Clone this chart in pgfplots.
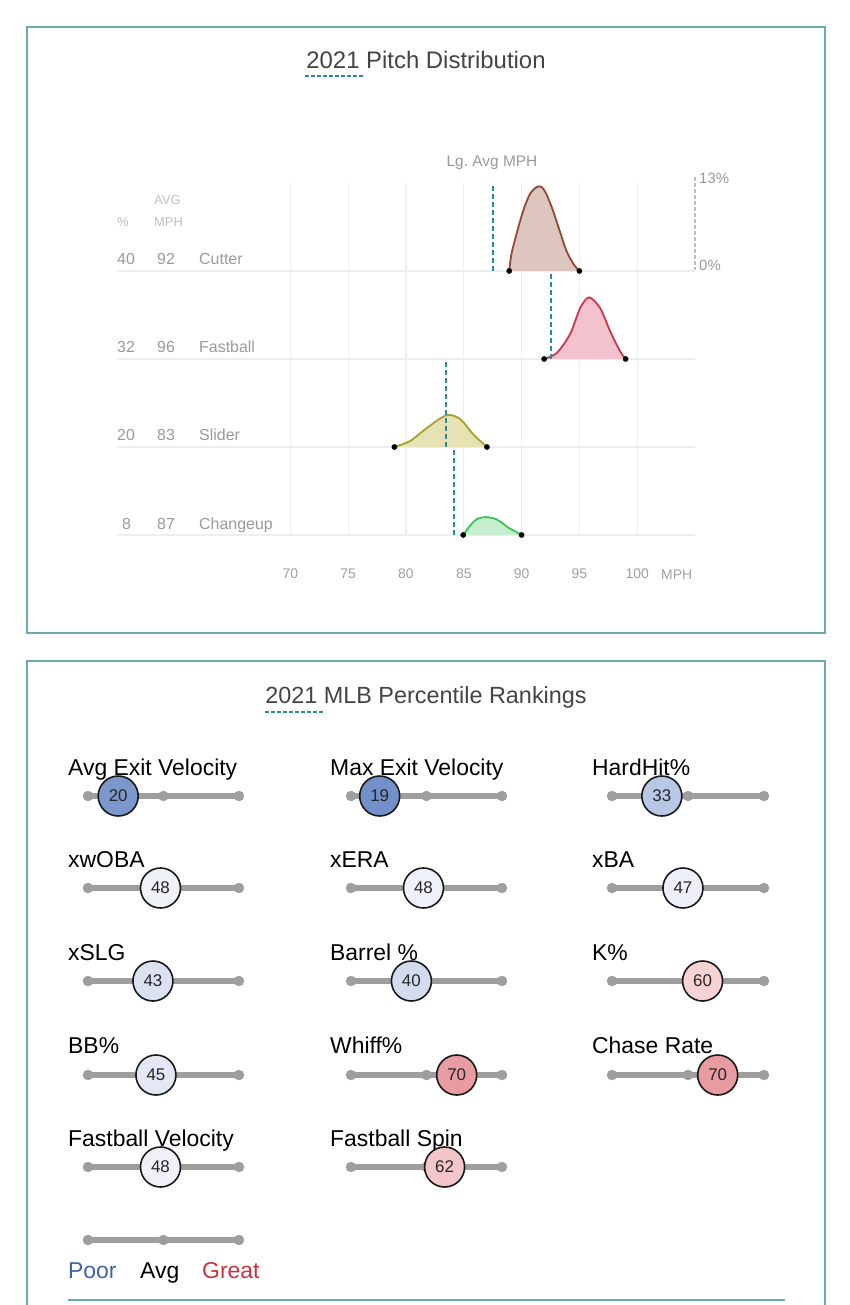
\documentclass[border=0pt]{standalone}
\usepackage{pgfplots}
\pgfplotsset{compat=1.18}
\usepackage{pgfplotstable}
\usepackage{fontspec}
\setmainfont{Liberation Sans}

\definecolor{panel}{HTML}{6AAAB0}
\definecolor{lgavg}{HTML}{2A8C96}
\definecolor{titlec}{HTML}{444444}
\definecolor{lblc}{HTML}{9A9A9A}
\definecolor{lightlbl}{HTML}{C0C0C0}
\definecolor{tickc}{HTML}{A0A0A0}
\definecolor{gridc}{HTML}{EEEEEE}
\definecolor{trk}{HTML}{9E9E9E}
\definecolor{cutL}{HTML}{8E4A36}\definecolor{cutF}{HTML}{DDC6BD}
\definecolor{fbL}{HTML}{C8384F}\definecolor{fbF}{HTML}{F2C3CC}
\definecolor{slL}{HTML}{A8A030}\definecolor{slF}{HTML}{E6E2B4}
\definecolor{chL}{HTML}{3CC25A}\definecolor{chF}{HTML}{C6EDCE}
\definecolor{poor}{HTML}{3F63A3}
\definecolor{great}{HTML}{C9323F}
\definecolor{pA}{HTML}{7290C9}% 19
\definecolor{pB}{HTML}{7B97CB}% 20
\definecolor{pC}{HTML}{B8C7E5}% 33
\definecolor{pD}{HTML}{D3DBEF}% 40
\definecolor{pE}{HTML}{DBE1F1}% 43
\definecolor{pF}{HTML}{E3E8F4}% 45
\definecolor{pG}{HTML}{ECEFF8}% 47
\definecolor{pH}{HTML}{EEF1F8}% 48
\definecolor{pI}{HTML}{F6D2D5}% 60
\definecolor{pJ}{HTML}{F3C6CA}% 62
\definecolor{pK}{HTML}{E89BA0}% 70

\pgfplotstableread{
mph d
88.93 0
89.12 2.5
89.55 5.4
90.12 8.8
90.7 11.3
91.3 12.4
91.73 12.4
92.16 11.3
92.74 8.8
93.3 5.9
93.9 2.9
94.5 1.0
95.0 0
}\cutter
\pgfplotstableread{
mph d
91.95 0
93.05 0.9
94.2 3.7
95.06 7.5
95.84 9.1
96.8 7.5
97.66 4.1
98.5 1.2
99.0 0
}\fastball
\pgfplotstableread{
mph d
79.0 0
80.37 0.9
81.8 2.8
83.5 4.7
84.7 4.1
85.8 1.9
87.0 0
}\slider
\pgfplotstableread{
mph d
84.95 0
85.55 1.4
86.1 2.3
86.85 2.65
87.85 2.3
88.84 1.1
89.6 0.4
90.0 0
}\changeup

\newcommand{\fs}[1]{\fontsize{#1}{#1}\selectfont}
% track: x0, xmid, x1, y
\newcommand{\track}[4]{%
  \addplot[draw=trk, line width=6bp] coordinates {(#1,#4) (#3,#4)};
  \addplot[only marks, mark=*, mark size=5bp, mark options={draw=trk, fill=trk}] coordinates {(#1,#4) (#2,#4) (#3,#4)};
}
% circle: x0, y, percentile, colour
\newcommand{\pct}[4]{%
  \addplot[only marks, mark=*, mark size=20bp, mark options={draw=black!90, line width=1.6bp, fill=#4}, x filter/.expression={#1+1.51*x}] coordinates {(#3,#2)};
  \addplot[only marks, mark=text, text mark={#3}, text mark as node=true,
    text mark style={font=\fs{17}, text=black!85, anchor=center, inner sep=0pt},
    x filter/.expression={#1+1.51*x}] coordinates {(#3,#2)};
}

\begin{document}
\begin{tikzpicture}
\path[use as bounding box] (0,0) rectangle (850bp,1305bp);
\fill[white] (0,0) rectangle (850bp,1305bp);

% ---------------- overlay axis in pixel coordinates ----------------
\begin{axis}[at={(0,0)}, anchor=south west, scale only axis,
  width=850bp, height=1305bp, xmin=0, xmax=850, ymin=0, ymax=1305,
  y dir=reverse, hide axis, clip=false]
  % panels
  \draw[panel, line width=1.5bp] (27,27) rectangle (825,633);
  \draw[panel, line width=1.5bp] (27,1310) -- (27,661) -- (825,661) -- (825,1310);
  \draw[panel, line width=1.5bp] (68,1300) -- (785,1300);

  % top panel texts
  \node[anchor=base, font=\fs{24}, text=titlec] at (426,68) {2021 Pitch Distribution};
  \draw[lgavg, line width=1.2bp, dash pattern=on 4bp off 2bp] (305,76) -- (363,76);
  \node[anchor=base, font=\fs{15.5}, text=lblc] at (492,166) {Lg.\ Avg MPH};
  \node[anchor=base west, font=\fs{15}, text=lblc, inner sep=0pt] at (699,183) {13\%};
  \node[anchor=base west, font=\fs{15}, text=lblc, inner sep=0pt] at (699,270) {0\%};
  \draw[lightlbl, line width=1.2bp, dash pattern=on 4bp off 2bp] (695,177) -- (695,270);

  \node[anchor=base west, font=\fs{13}, text=lightlbl, inner sep=0pt] at (117,226) {\%};
  \node[anchor=base west, font=\fs{13}, text=lightlbl, inner sep=0pt] at (154,204) {AVG};
  \node[anchor=base west, font=\fs{13}, text=lightlbl, inner sep=0pt] at (154,226) {MPH};

  \node[anchor=base west, font=\fs{16}, text=lblc, inner sep=0pt] at (117,264) {40};
  \node[anchor=base west, font=\fs{16}, text=lblc, inner sep=0pt] at (157,264) {92};
  \node[anchor=base west, font=\fs{16}, text=lblc, inner sep=0pt] at (199,264) {Cutter};
  \node[anchor=base west, font=\fs{16}, text=lblc, inner sep=0pt] at (117,352.3) {32};
  \node[anchor=base west, font=\fs{16}, text=lblc, inner sep=0pt] at (157,352.3) {96};
  \node[anchor=base west, font=\fs{16}, text=lblc, inner sep=0pt] at (199,352.3) {Fastball};
  \node[anchor=base west, font=\fs{16}, text=lblc, inner sep=0pt] at (117,440.6) {20};
  \node[anchor=base west, font=\fs{16}, text=lblc, inner sep=0pt] at (157,440.6) {83};
  \node[anchor=base west, font=\fs{16}, text=lblc, inner sep=0pt] at (199,440.6) {Slider};
  \node[anchor=base west, font=\fs{16}, text=lblc, inner sep=0pt] at (122,529) {8};
  \node[anchor=base west, font=\fs{16}, text=lblc, inner sep=0pt] at (157,529) {87};
  \node[anchor=base west, font=\fs{16}, text=lblc, inner sep=0pt] at (199,529) {Changeup};
  \node[anchor=base west, font=\fs{14}, text=tickc, inner sep=0pt] at (661,579) {MPH};

  % bottom panel title
  \node[anchor=base, font=\fs{23.5}, text=titlec] at (426,703) {2021 MLB Percentile Rankings};
  \draw[lgavg, line width=1.2bp, dash pattern=on 4bp off 2bp] (265,712) -- (325,712);

  % labels
  \node[anchor=base west, font=\fs{23}, inner sep=0pt] at (68,775) {Avg Exit Velocity};
  \node[anchor=base west, font=\fs{23}, inner sep=0pt] at (330,775) {Max Exit Velocity};
  \node[anchor=base west, font=\fs{23}, inner sep=0pt] at (592,775) {HardHit\%};
  \node[anchor=base west, font=\fs{23}, inner sep=0pt] at (68,867) {xwOBA};
  \node[anchor=base west, font=\fs{23}, inner sep=0pt] at (330,867) {xERA};
  \node[anchor=base west, font=\fs{23}, inner sep=0pt] at (592,867) {xBA};
  \node[anchor=base west, font=\fs{23}, inner sep=0pt] at (68,960) {xSLG};
  \node[anchor=base west, font=\fs{23}, inner sep=0pt] at (330,960) {Barrel \%};
  \node[anchor=base west, font=\fs{23}, inner sep=0pt] at (592,960) {K\%};
  \node[anchor=base west, font=\fs{23}, inner sep=0pt] at (68,1053) {BB\%};
  \node[anchor=base west, font=\fs{23}, inner sep=0pt] at (330,1053) {Whiff\%};
  \node[anchor=base west, font=\fs{23}, inner sep=0pt] at (592,1053) {Chase Rate};
  \node[anchor=base west, font=\fs{23}, inner sep=0pt] at (68,1146) {Fastball Velocity};
  \node[anchor=base west, font=\fs{23}, inner sep=0pt] at (330,1146) {Fastball Spin};

  % tracks
  \track{88}{163.5}{239}{796}\track{351}{426.5}{502}{796}\track{612}{688}{764}{796}
  \track{88}{163.5}{239}{888}\track{351}{426.5}{502}{888}\track{612}{688}{764}{888}
  \track{88}{163.5}{239}{981}\track{351}{426.5}{502}{981}\track{612}{688}{764}{981}
  \track{88}{163.5}{239}{1075}\track{351}{426.5}{502}{1075}\track{612}{688}{764}{1075}
  \track{88}{163.5}{239}{1167}\track{351}{426.5}{502}{1167}
  \track{88}{163.5}{239}{1240}

  % percentile circles
  \pct{88}{796}{20}{pB}
  \pct{351}{796}{19}{pA}
  \pct{612}{796}{33}{pC}
  \pct{88}{888}{48}{pH}
  \pct{351}{888}{48}{pH}
  \pct{612}{888}{47}{pG}
  \pct{88}{981}{43}{pE}
  \pct{351}{981}{40}{pD}
  \pct{612}{981}{60}{pI}
  \pct{88}{1075}{45}{pF}
  \pct{351}{1075}{70}{pK}
  \pct{612}{1075}{70}{pK}
  \pct{88}{1167}{48}{pH}
  \pct{351}{1167}{62}{pJ}

  % legend
  \node[anchor=base west, font=\fs{23}, text=poor, inner sep=0pt] at (68,1278) {Poor};
  \node[anchor=base west, font=\fs{23}, inner sep=0pt] at (140,1278) {Avg};
  \node[anchor=base west, font=\fs{23}, text=great, inner sep=0pt] at (202,1278) {Great};
\end{axis}

% ---------------- pitch distribution axis ----------------
\begin{axis}[at={(117bp,770bp)}, anchor=south west, scale only axis,
  width=578bp, height=352bp, xmin=55, xmax=105, ymin=0, ymax=52, clip=false,
  axis line style={draw=none}, tick style={draw=none},
  ytick={0,13,26,39}, yticklabels={}, ymajorgrids,
  xtick={70,75,...,100}, xmajorgrids,
  grid style={color=gridc, line width=1.3bp},
  /pgf/number format/assume math mode=true,
  xticklabel style={font=\fs{14}, text=tickc, anchor=base, yshift=-44bp}]
  \addplot[smooth, draw=cutL, line width=1.8bp, fill=cutF] table[x=mph, y expr=\thisrow{d}+39] {\cutter};
  \addplot[smooth, draw=fbL, line width=1.8bp, fill=fbF] table[x=mph, y expr=\thisrow{d}+26] {\fastball};
  \addplot[smooth, draw=slL, line width=1.8bp, fill=slF] table[x=mph, y expr=\thisrow{d}+13] {\slider};
  \addplot[smooth, draw=chL, line width=1.8bp, fill=chF] table[x=mph, y expr=\thisrow{d}] {\changeup};
  % league average lines
  \addplot[lgavg, line width=2bp, dash pattern=on 5bp off 3bp] coordinates {(87.55,39) (87.55,52)};
  \addplot[lgavg, line width=2bp, dash pattern=on 5bp off 3bp] coordinates {(92.56,26) (92.56,39)};
  \addplot[lgavg, line width=2bp, dash pattern=on 5bp off 3bp] coordinates {(83.48,13) (83.48,26)};
  \addplot[lgavg, line width=2bp, dash pattern=on 5bp off 3bp] coordinates {(84.17,0) (84.17,13)};
  % end points
  \addplot[only marks, mark=*, mark size=2.6bp, black] coordinates {(88.93,39) (95.0,39)};
  \addplot[only marks, mark=*, mark size=2.6bp, black] coordinates {(91.95,26) (99.0,26)};
  \addplot[only marks, mark=*, mark size=2.6bp, black] coordinates {(79.0,13) (87.0,13)};
  \addplot[only marks, mark=*, mark size=2.6bp, black] coordinates {(84.95,0) (90.0,0)};
\end{axis}
\end{tikzpicture}
\end{document}
